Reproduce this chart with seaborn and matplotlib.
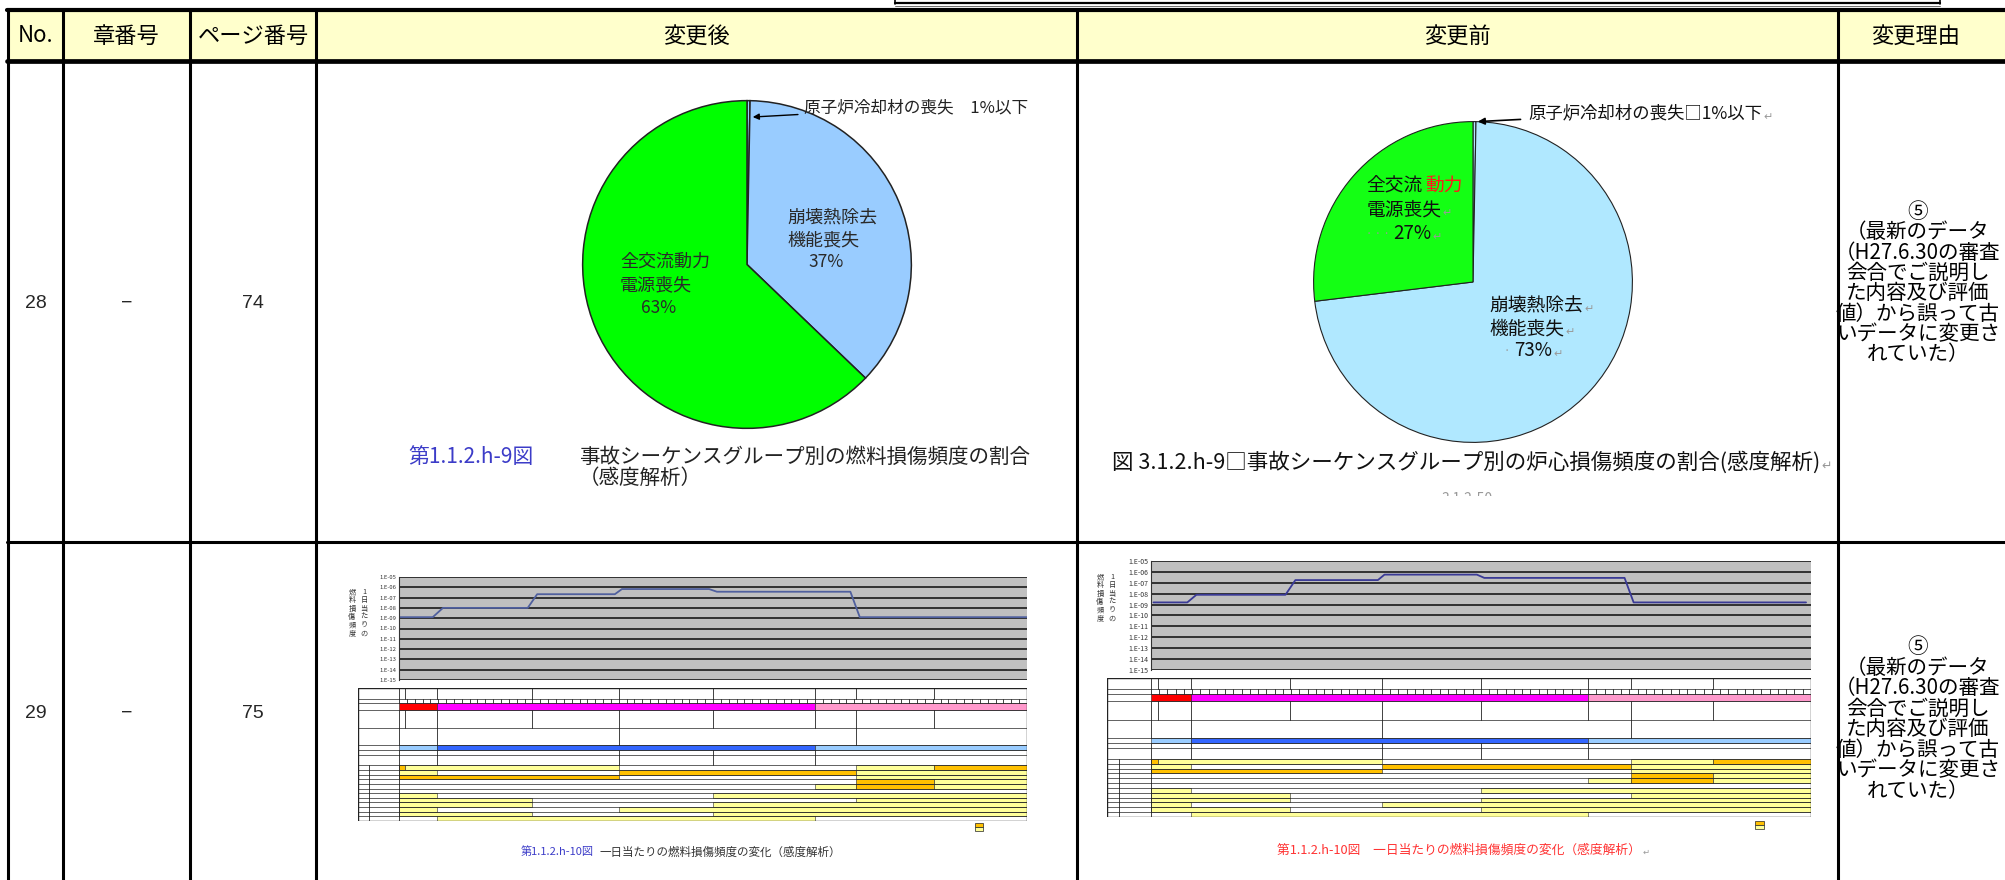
import matplotlib
matplotlib.use("Agg")
import matplotlib.pyplot as plt
from matplotlib.patches import Rectangle
from matplotlib.ticker import FixedLocator, FixedFormatter, NullLocator
import seaborn as sns
import pandas as pd

sns.set_theme(style="white")
plt.rcParams["font.family"] = ["Noto Sans CJK JP", "DejaVu Sans"]

# ---------------- table content ----------------
header_labels = ["No.", "章番号", "ページ番号", "変更後", "変更前", "変更理由"]
row_numbers = ["28", "29"]
chapter_numbers = ["−", "−"]
page_numbers = ["74", "75"]
reason_lines = ["⑤", "（最新のデータ", "（H27.6.30の審査", "会合でご説明し",
                "た内容及び評価", "値）から誤って古", "いデータに変更さ", "れていた）"]

# ---------------- pie charts ----------------
pie_groups = ["原子炉冷却材の喪失", "崩壊熱除去機能喪失", "全交流動力電源喪失"]
after_shares = [0.3, 37, 63]
before_shares = [0.3, 73, 27]

# ---------------- daily fuel damage frequency ----------------
days_after = [0, 4.3, 5.6, 16.4, 17.6, 27.5, 28.4, 39.5, 40.5, 57.5, 58.7, 80]
freq_exp_after = [-8.9, -8.9, -8.0, -8.0, -6.67, -6.67, -6.17, -6.17, -6.43, -6.43, -8.9, -8.9]
days_before = [0.3, 4.4, 5.5, 16.3, 17.5, 27.5, 28.3, 39.5, 40.4, 57.4, 58.5, 79.4]
freq_exp_before = [-8.8, -8.8, -8.1, -8.1, -6.75, -6.75, -6.25, -6.25, -6.55, -6.55, -8.8, -8.8]
tick_exps = list(range(5, 16))

# ---------------- outage schedule table ----------------
period_edges = [0, 0.8, 4.8, 16.9, 28, 40, 53, 58.2, 68.1]
plant_state_bars = [(0, 4.8, "#FF0000"), (4.8, 53, "#FF00FF"), (53, 80, "#FF99CC")]
water_level_bars = [(0, 4.8, "#99CCFF"), (4.8, 53, "#3366FF"), (53, 80, "#99CCFF")]
row5_edges = [0, 4.8, 28, 58.2]
row7_edges = [0, 4.8, 28, 40, 53]
Y, O = "#FFFF99", "#FFC000"
power_rows = [
    [(0, 0.8, O), (0.8, 28, Y), (58.2, 68.1, Y), (68.1, 80, O)],
    [(0, 4.8, Y), (28, 58.2, O), (58.2, 80, Y)],
    [(0, 28, O), (58.2, 80, Y)],
    [(58.2, 68.1, O), (68.1, 80, Y)],
    [(53, 58.2, Y), (58.2, 68.1, O), (68.1, 80, Y)],
    [],
]
cooling_rows = [
    [(0, 4.8, Y), (40, 80, Y)],
    [(0, 16.9, Y), (58.2, 80, Y)],
    [(0, 16.9, Y), (40, 80, Y)],
    [(0, 4.8, Y), (28, 80, Y)],
    [(0, 16.9, Y), (40, 80, Y)],
    [(4.8, 53, Y)],
]

W, H = 2006, 880
fig = plt.figure(figsize=(W / 100, H / 100), dpi=100)
bg = fig.add_axes([0, 0, 1, 1])
bg.set_xlim(0, W)
bg.set_ylim(H, 0)
bg.axis("off")


def add_axes_px(x0, y0, x1, y1):
    return fig.add_axes([x0 / W, 1 - y1 / H, (x1 - x0) / W, (y1 - y0) / H])


def para_mark(ax, txt, size):
    """Grey paragraph mark right after a text item."""
    ax.annotate("↵", xy=(1, 0.35), xycoords=txt, xytext=(1, 0), textcoords="offset points",
                ha="left", va="center", fontsize=size, color="#999999")


# ---------------- frame of the comparison table ----------------
col_edges = [8, 63, 190, 316, 1077, 1838]
header_top, header_bot, row_sep = 10, 61, 542
bg.add_patch(Rectangle((col_edges[0], header_top), W - col_edges[0], header_bot - header_top,
                       facecolor="#FFFFCC", edgecolor="none", zorder=0))
for x in col_edges:
    bg.plot([x, x], [header_top, H], color="black", lw=2.2, solid_capstyle="butt", zorder=5)
bg.plot([col_edges[0] - 1, W], [header_top, header_top], color="black", lw=3.0, zorder=5)
bg.plot([col_edges[0] - 1, W], [header_bot, header_bot], color="black", lw=3.4, zorder=5)
bg.plot([col_edges[0] - 1, W], [row_sep, row_sep], color="black", lw=2.2, zorder=5)

# box edge at the top of the page
bg.plot([895, 895], [0, 4.5], color="black", lw=1.2)
bg.plot([1940, 1940], [0, 4.5], color="black", lw=1.2)
bg.plot([895, 1940], [3.5, 3.5], color="black", lw=1.6)
bg.plot([895, 1940], [6, 6], color="#555555", lw=0.6)

header_x = [35.5, 126.5, 253, 696.5, 1457.5, 1916]
for x, lab in zip(header_x, header_labels):
    bg.text(x, 36, lab, ha="center", va="center", fontsize=16, color="black")

row_text_y = [303, 713]
for yc, num, ch, pg in zip(row_text_y, row_numbers, chapter_numbers, page_numbers):
    bg.text(35.5, yc, num, ha="center", va="center", fontsize=14, family="Liberation Sans")
    bg.text(126.5, yc, ch, ha="center", va="center", fontsize=14, family="Liberation Sans")
    bg.text(253, yc, pg, ha="center", va="center", fontsize=14, family="Liberation Sans")

for y0, step in [(212, 20.3), (647, 20.6)]:
    for k, line in enumerate(reason_lines):
        bg.text(1918, y0 + k * step, line, ha="center", va="center", fontsize=14.8, color="black")


# ---------------- pies ----------------
def draw_pie(box, shares, colors, edge_lw):
    ax = add_axes_px(*box)
    ax.pie(shares, colors=colors, startangle=90, counterclock=False,
           wedgeprops=dict(edgecolor="#222222", linewidth=edge_lw))
    ax.set_aspect("auto")
    ax.set_xlim(-1.01, 1.01)
    ax.set_ylim(-1.01, 1.01)
    return ax


# after revision
p1 = draw_pie((581, 99, 913, 430), after_shares, ["#99CCFF", "#99CCFF", "#00FF00"], 1.1)
p1.annotate("原子炉冷却材の喪失　1%以下", xy=(0.035, 0.9), xytext=(804, 108),
            textcoords=bg.transData, ha="left", va="center", fontsize=12, color="#222222",
            arrowprops=dict(arrowstyle="-|>", color="black", lw=1.0, shrinkA=2, shrinkB=0,
                            mutation_scale=9))
lab_c = "#2A2A2A"
px = bg.transData
p1.text(787, 218, "崩壊熱除去", transform=px, ha="left", va="center", fontsize=13, color=lab_c)
p1.text(787, 240, "機能喪失", transform=px, ha="left", va="center", fontsize=13, color=lab_c)
p1.text(826, 262, "37%", transform=px, ha="center", va="center", fontsize=12.5, color=lab_c)
p1.text(620, 262, "全交流動力", transform=px, ha="left", va="center", fontsize=13, color=lab_c)
p1.text(620, 285, "電源喪失", transform=px, ha="left", va="center", fontsize=13, color=lab_c)
p1.text(659, 308, "63%", transform=px, ha="center", va="center", fontsize=12.5, color=lab_c)

bg.text(408, 457, "第1.1.2.h-9図", ha="left", va="center", fontsize=15, color="#3C3CC8")
bg.text(579, 457, "事故シーケンスグループ別の燃料損傷頻度の割合", ha="left", va="center",
        fontsize=14.8, color="#222222")
bg.text(579, 478, "（感度解析）", ha="left", va="center", fontsize=14.8, color="#222222")

# before revision
p2 = draw_pie((1312, 120, 1634, 444), before_shares, ["#B0E8FF", "#B0E8FF", "#14FF14"], 0.8)
a2 = p2.annotate("原子炉冷却材の喪失□1%以下", xy=(0.03, 1.0), xytext=(1528, 113),
                 textcoords=bg.transData, ha="left", va="center", fontsize=12.5, color="#111111",
                 arrowprops=dict(arrowstyle="-|>", color="black", lw=1.2, shrinkA=3, shrinkB=0,
                                 mutation_scale=10))
para_mark(p2, a2, 8)
t = p2.text(-0.67, 0.60, "全交流", ha="left", va="center", fontsize=13.5, color="#111111")
p2.annotate("動力", xy=(1, 0.5), xycoords=t, xytext=(2, 0), textcoords="offset points",
            ha="left", va="center", fontsize=13.5, color="#FF1A1A")
t = p2.text(-0.67, 0.45, "電源喪失", ha="left", va="center", fontsize=13.5, color="#111111")
para_mark(p2, t, 8)
p2.text(-0.67, 0.30, "· · ·", ha="left", va="center", fontsize=8, color="#999999")
t = p2.text(-0.50, 0.30, "27%", ha="left", va="center", fontsize=13.5, color="#111111")
para_mark(p2, t, 8)
t = p2.text(0.10, -0.15, "崩壊熱除去", ha="left", va="center", fontsize=13.5, color="#111111")
para_mark(p2, t, 8)
t = p2.text(0.10, -0.29, "機能喪失", ha="left", va="center", fontsize=13.5, color="#111111")
para_mark(p2, t, 8)
p2.text(0.19, -0.43, "·", ha="left", va="center", fontsize=8, color="#999999")
t = p2.text(0.26, -0.43, "73%", ha="left", va="center", fontsize=13.5, color="#111111")
para_mark(p2, t, 8)

t = bg.text(1112, 463, "図 3.1.2.h-9□事故シーケンスグループ別の炉心損傷頻度の割合(感度解析)",
            ha="left", va="center", fontsize=15.5, color="#111111")
para_mark(bg, t, 9)
bg.text(1467, 499, "3.1.2-50", ha="center", va="center", fontsize=10, color="#999999", zorder=2)
bg.add_patch(Rectangle((1400, 496), 140, 20, facecolor="white", edgecolor="none", zorder=3))


# ---------------- daily frequency charts with schedule tables ----------------
def draw_trend(plot_box, table_box, days, exps, line_color, label_xy, tick_fs):
    x0, y0, x1, y1 = plot_box
    ax = add_axes_px(x0, y0, x1, y1)
    df = pd.DataFrame({"day": days, "freq": [10.0 ** e for e in exps]})
    sns.lineplot(data=df, x="day", y="freq", ax=ax, color=line_color, lw=1.3)
    ax.set_yscale("log")
    ax.set_ylim(1e-15, 1e-5)
    ax.set_xlim(0, 80)
    ax.set_facecolor("#C0C0C0")
    ax.yaxis.set_major_locator(FixedLocator([10.0 ** -k for k in tick_exps]))
    ax.yaxis.set_major_formatter(FixedFormatter([f"1.E-{k:02d}" for k in tick_exps]))
    ax.yaxis.set_minor_locator(NullLocator())
    ax.xaxis.set_major_locator(NullLocator())
    ax.grid(axis="y", color="#1A1A1A", lw=1.2)
    ax.set_axisbelow(True)
    ax.tick_params(axis="y", labelsize=tick_fs, pad=2, length=0, colors="#333333")
    ax.set_xlabel("")
    ax.set_ylabel("")
    for s in ax.spines.values():
        s.set_visible(False)
    ax.spines["left"].set_visible(True)
    ax.spines["left"].set_color("#333333")
    ax.spines["left"].set_linewidth(0.8)

    # vertical axis title, two columns written top to bottom
    lx, ly = label_xy
    bg.text(lx + 12, ly, "\n".join("1日当たりの"), ha="center", va="top", fontsize=5.2,
            linespacing=1.05, color="#333333")
    bg.text(lx, ly, "\n".join("燃料損傷頻度"), ha="center", va="top", fontsize=5.2,
            linespacing=1.05, color="#333333")

    # schedule table below the plot
    tx0, ty0, tx1, ty1 = table_box
    gx = add_axes_px(tx0, ty0, x1, ty1)
    label_w = (x0 - tx0) / ((x1 - x0) / 80.0)
    heights = [2.3, 1.0, 1.5, 3.8, 3.7, 1.1, 1.1, 2.2] + [1.0] * 12
    tops = [0]
    for h in heights:
        tops.append(tops[-1] + h)
    total = tops[-1]
    gx.set_xlim(-label_w, 80)
    gx.set_ylim(total, 0)
    gx.axis("off")
    lc = "#222222"

    def vlines(edges, r):
        for e in edges:
            gx.plot([e, e], [tops[r], tops[r + 1]], color=lc, lw=0.6)

    def bars(spec, r):
        for a, b, c in spec:
            gx.add_patch(Rectangle((a, tops[r]), b - a, heights[r], facecolor=c,
                                   edgecolor=lc, lw=0.4))

    vlines(period_edges, 0)
    vlines([d for d in range(0, 80)], 1)
    bars(plant_state_bars, 2)
    vlines(period_edges, 3)
    vlines(row5_edges, 4)
    bars(water_level_bars, 5)
    vlines(row7_edges, 6)
    vlines(row7_edges, 7)
    for i, spec in enumerate(power_rows):
        bars(spec, 8 + i)
        vlines([0], 8 + i)
    for i, spec in enumerate(cooling_rows):
        bars(spec, 14 + i)
        vlines([0], 14 + i)
    for tp in tops:
        gx.plot([-label_w, 80], [tp, tp], color=lc, lw=0.5)
    gx.plot([-label_w * 0.72, -label_w * 0.72], [tops[8], total], color=lc, lw=0.6)
    gx.add_patch(Rectangle((-label_w, 0), 80 + label_w, total, facecolor="none",
                           edgecolor=lc, lw=1.0))
    return ax, gx


draw_trend((399, 577, 1027, 680), (358, 688, 1027, 821), days_after, freq_exp_after,
           "#50609E", (352, 588), 4.2)
draw_trend((1151, 561, 1811, 670), (1107, 678, 1811, 817), days_before, freq_exp_before,
           "#3A3A96", (1100, 573), 5.0)

# legends of the schedule tables
for lx, ly, w in [(975, 823, 8), (1755, 821, 9)]:
    bg.add_patch(Rectangle((lx, ly), w, 4, facecolor=O, edgecolor="#222222", lw=0.5))
    bg.add_patch(Rectangle((lx, ly + 4.5), w, 4, facecolor=Y, edgecolor="#222222", lw=0.5))

# captions of the schedule figures
bg.text(521, 852, "第1.1.2.h-10図", ha="left", va="center", fontsize=8, color="#3C3CC8")
bg.text(600, 852, "一日当たりの燃料損傷頻度の変化（感度解析）", ha="left", va="center",
        fontsize=8.3, color="#333333")
t = bg.text(1277, 850, "第1.1.2.h-10図　一日当たりの燃料損傷頻度の変化（感度解析）",
            ha="left", va="center", fontsize=9.2, color="#FF3333")
para_mark(bg, t, 6)

fig.savefig("out.png", dpi=100, facecolor="white")
